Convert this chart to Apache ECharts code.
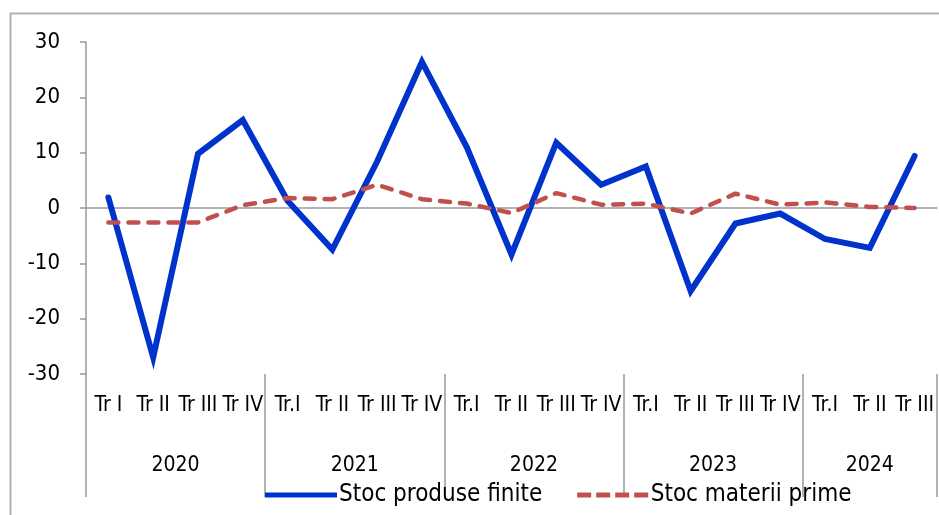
<!DOCTYPE html>
<html>
<head>
<meta charset="utf-8">
<script src="https://cdn.jsdelivr.net/npm/echarts@6/dist/echarts.min.js"></script>
<style>
  html, body { margin: 0; padding: 0; background: #fff; }
  #chart { width: 939px; height: 515px; }
</style>
</head>
<body>
<div id="chart"></div>
<script>
// trimestre
const quarters = [
  'Tr I', 'Tr II', 'Tr III', 'Tr IV',
  'Tr.I', 'Tr II', 'Tr III', 'Tr IV',
  'Tr.I', 'Tr II', 'Tr III', 'Tr IV',
  'Tr.I', 'Tr II', 'Tr III', 'Tr IV',
  'Tr.I', 'Tr II', 'Tr III'
];
const years = ['2020', '2021', '2022', '2023', '2024'];
const quartersPerYear = [4, 4, 4, 4, 3];

const stocProduseFinite = [
  1.9, -27.0, 9.8, 15.9,
  1.3, -7.5, 8.4, 26.4,
  11.0, -8.4, 11.8, 4.2,
  7.5, -15.0, -2.8, -1.0,
  -5.6, -7.2, 9.4
];
const stocMateriiPrime = [
  -2.6, -2.6, -2.6, 0.5,
  1.8, 1.6, 4.2, 1.6,
  0.8, -0.9, 2.7, 0.6,
  0.8, -1.0, 2.6, 0.6,
  1.0, 0.2, 0.0
];

// limitele anilor si mijlocul fiecarui an, in unitati de trimestru
const yearBounds = [0];
const yearMiddles = [];
quartersPerYear.forEach((n) => {
  const start = yearBounds[yearBounds.length - 1];
  yearMiddles.push(start + n / 2);
  yearBounds.push(start + n);
});

const font = "'Liberation Sans Narrow', 'DejaVu Sans Condensed', 'Liberation Sans', sans-serif";
const axisGray = '#999999';
const blue = '#0033CC';
const red = '#C0504D';

const myChart = echarts.init(document.getElementById('chart'));
myChart.setOption({
  animation: false,
  textStyle: { fontFamily: font, color: '#000' },
  graphic: [{
    type: 'rect',
    shape: { x: 10.5, y: 13.5, width: 1000, height: 1000 },
    style: { fill: 'none', stroke: '#b0b0b0', lineWidth: 2 },
    silent: true
  }],
  grid: { left: 86, right: 2, top: 42, bottom: 141 },
  legend: {
    left: 265,
    top: 483,
    padding: 0,
    itemWidth: 72,
    itemHeight: 5,
    itemGap: 35,
    textStyle: { fontSize: 24, fontFamily: font, color: '#000', padding: [0, 0, 0, -3] },
    data: [
      { name: 'Stoc produse finite', icon: 'rect', itemStyle: { color: blue } },
      {
        name: 'Stoc materii prime',
        // linie punctata
        icon: 'path://M0,0h14v5h-14z M19,0h14v5h-14z M38,0h14v5h-14z M57,0h14v5h-14z',
        itemStyle: { color: red }
      }
    ]
  },
  xAxis: [
    {
      // linia de zero
      type: 'category',
      data: quarters,
      position: 'bottom',
      axisLine: { onZero: true, lineStyle: { color: axisGray, width: 1.5 } },
      axisTick: { show: false },
      axisLabel: { show: false },
      splitLine: { show: false }
    },
    {
      // etichete trimestre
      type: 'category',
      data: quarters,
      position: 'bottom',
      axisLine: { show: false, onZero: false },
      axisTick: { show: false },
      axisLabel: { interval: 0, fontSize: 21, fontFamily: font, color: '#000', margin: 21 },
      splitLine: { show: false }
    },
    {
      // ani + separatori
      type: 'value',
      position: 'bottom',
      min: 0,
      max: yearBounds[yearBounds.length - 1],
      axisLine: { show: false, onZero: false },
      axisTick: {
        show: true,
        customValues: yearBounds,
        length: 123,
        lineStyle: { color: axisGray, width: 1.5 }
      },
      axisLabel: {
        customValues: yearMiddles,
        fontSize: 21,
        fontFamily: font,
        color: '#000',
        margin: 81,
        formatter: (v) => years[yearMiddles.indexOf(v)] || ''
      },
      splitLine: { show: false }
    }
  ],
  yAxis: {
    type: 'value',
    min: -30,
    max: 30,
    interval: 10,
    axisLine: { show: true, lineStyle: { color: axisGray, width: 1.5 } },
    axisTick: { show: true, inside: false, length: 6, lineStyle: { color: axisGray, width: 1.5 } },
    axisLabel: { fontSize: 22, fontFamily: font, color: '#000', margin: 26 },
    splitLine: { show: false }
  },
  series: [
    {
      name: 'Stoc produse finite',
      type: 'line',
      xAxisIndex: 0,
      data: stocProduseFinite,
      symbol: 'none',
      lineStyle: { color: blue, width: 6, join: 'miter', cap: 'round' },
      itemStyle: { color: blue }
    },
    {
      name: 'Stoc materii prime',
      type: 'line',
      xAxisIndex: 0,
      data: stocMateriiPrime,
      symbol: 'none',
      lineStyle: { color: red, width: 4.5, type: [10, 10], cap: 'round' },
      itemStyle: { color: red }
    }
  ]
});
</script>
</body>
</html>
